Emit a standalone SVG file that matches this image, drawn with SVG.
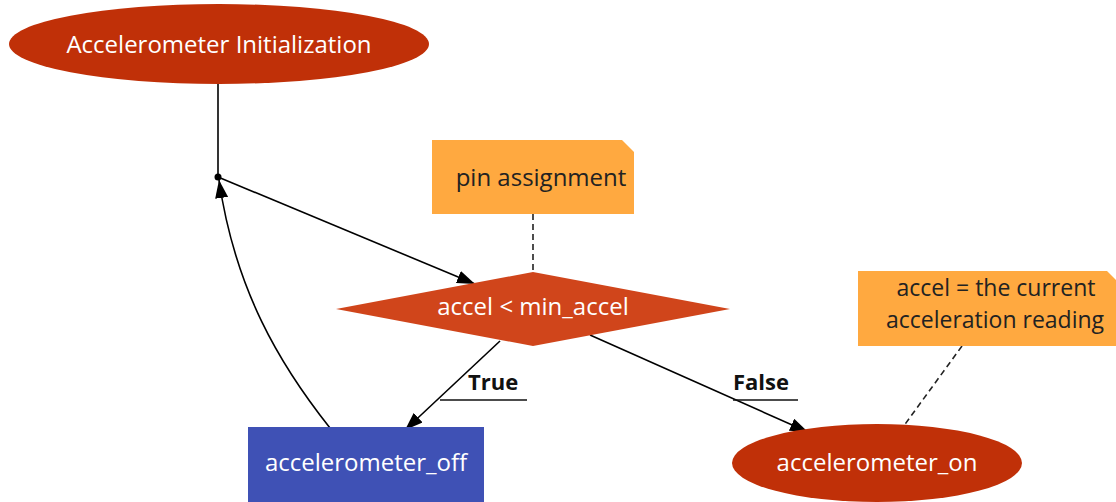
<svg xmlns="http://www.w3.org/2000/svg" width="1116" height="502" viewBox="0 0 1116 502">
  <style>
    .lbl { font-family: "Open Sans", "Noto Sans", "DejaVu Sans", sans-serif; font-size: 24px; text-anchor: middle; }
    .small { font-size: 23px; }
    .light { fill: #ffffff; }
    .dark { fill: #222222; }
    .edge { fill: none; stroke: #000000; stroke-width: 1.6; }
    .dash { fill: none; stroke: #222222; stroke-width: 1.6; stroke-dasharray: 6 4; }
    .elabel { font-family: "Open Sans", "Noto Sans", "DejaVu Sans", sans-serif; font-size: 22px; font-weight: bold; fill: #111111; }
    .uline { stroke: #111111; stroke-width: 1.6; }
    .note { fill: #ffa940; }
  </style>
  <defs>
    <marker id="arrow" viewBox="0 0 18 13" refX="18" refY="6.5" markerWidth="18" markerHeight="13" markerUnits="userSpaceOnUse" orient="auto">
      <path d="M0,0 L18,6.5 L0,13 Z" fill="#000000"/>
    </marker>
  </defs>

  <!-- connectors -->
  <g id="connectors">
    <line class="edge" x1="218" y1="84" x2="218" y2="177"/>
    <circle cx="218" cy="177" r="3.5" fill="#000000"/>
    <line class="edge" x1="218" y1="177" x2="475" y2="284" marker-end="url(#arrow)"/>
    <line class="edge" x1="500" y1="341" x2="405" y2="430" marker-end="url(#arrow)"/>
    <line class="edge" x1="590" y1="335" x2="808" y2="432" marker-end="url(#arrow)"/>
    <path class="edge" d="M330,428 C280,365 235,290 219,180" marker-end="url(#arrow)"/>
    <line class="dash" x1="533" y1="214" x2="533" y2="272"/>
    <line class="dash" x1="962" y1="346" x2="903" y2="427"/>
    <!-- branch labels -->
    <text class="elabel" x="468" y="390">True</text>
    <line class="uline" x1="440" y1="400" x2="527" y2="400"/>
    <text class="elabel" x="733" y="390">False</text>
    <line class="uline" x1="733" y1="400" x2="798" y2="400"/>
  </g>

  <g id="init">
    <ellipse cx="219" cy="44" rx="210" ry="40" fill="#c03008"/>
    <text class="lbl light" x="219" y="53">Accelerometer Initialization</text>
  </g>

  <g id="pin-note">
    <path class="note" d="M432,140 L622,140 L634,152 L634,214 L432,214 Z"/>
    <text class="lbl dark" x="541" y="186">pin assignment</text>
  </g>

  <g id="decision">
    <polygon points="336,309 533,272 730,309 533,346" fill="#d0451b"/>
    <text class="lbl light" x="533" y="315">accel &lt; min_accel</text>
  </g>

  <g id="accel-note">
    <path class="note" d="M858,271 L1107,271 L1116,280 L1116,346 L858,346 Z"/>
    <text class="lbl small dark" x="996" y="296">accel = the current</text>
    <text class="lbl small dark" x="995" y="328">acceleration reading</text>
  </g>

  <g id="accelerometer_off">
    <rect x="248" y="427" width="236" height="80" fill="#3f51b5"/>
    <text class="lbl light" x="366" y="471">accelerometer_off</text>
  </g>

  <g id="accelerometer_on">
    <ellipse cx="877" cy="463" rx="145" ry="39" fill="#c03008"/>
    <text class="lbl light" x="877" y="471">accelerometer_on</text>
  </g>
</svg>
